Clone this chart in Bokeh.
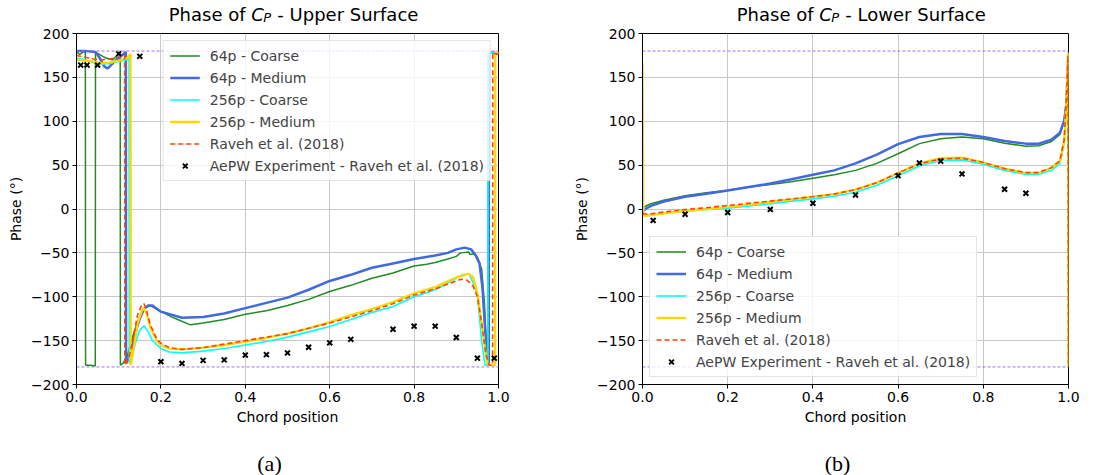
from bokeh.plotting import figure
from bokeh.models import Span, FixedTicker, PrintfTickFormatter
from bokeh.layouts import row, column
from bokeh.core.properties import value
from bokeh.embed import file_html
from bokeh.resources import INLINE

# ---------------- data : upper surface ----------------
up_64c_x = [0.0, 0.008, 0.015, 0.021, 0.0215, 0.033, 0.0445, 0.045, 0.055, 0.07, 0.085, 0.097, 0.1035, 0.104, 0.11, 0.12, 0.13, 0.145, 0.16, 0.175, 0.2, 0.23, 0.27, 0.3, 0.35, 0.4, 0.45, 0.5, 0.55, 0.6, 0.65, 0.7, 0.75, 0.78, 0.8, 0.83, 0.85, 0.88, 0.9, 0.91, 0.93, 0.932, 0.94, 0.95, 0.96, 0.967, 0.972, 0.978, 0.9785, 0.99, 1.0]
up_64c_y = [179, 176, 179, 179, -178, -178, -179, 178, 176, 172, 170, 175, 178, -178, -176, -168, -150, -128, -113, -110, -117, -124, -132, -130, -126, -120, -116, -110, -103, -94, -87, -79, -73, -68, -65, -63, -61, -57, -54, -50, -49, -52, -51, -55, -68, -110, -165, -178, 178, 177, 176]

up_64m_x = [0.0, 0.02, 0.045, 0.055, 0.065, 0.073, 0.08, 0.09, 0.1, 0.11, 0.117, 0.1175, 0.122, 0.13, 0.14, 0.15, 0.16, 0.17, 0.18, 0.2, 0.25, 0.3, 0.35, 0.4, 0.45, 0.5, 0.55, 0.6, 0.65, 0.7, 0.75, 0.8, 0.85, 0.88, 0.9, 0.92, 0.935, 0.945, 0.955, 0.962, 0.97, 0.976, 0.977, 0.99, 1.0]
up_64m_y = [180, 180, 179, 172, 163, 160, 163, 168, 172, 176, 179, -176, -172, -160, -140, -125, -114, -110, -110, -117, -124, -123, -119, -113, -107, -101, -92, -82, -75, -67, -62, -57, -53, -50, -46, -44, -46, -52, -62, -90, -150, -176, 178, 178, 177]

up_256c_x = [0.0, 0.02, 0.04, 0.06, 0.08, 0.1, 0.12, 0.1245, 0.125, 0.13, 0.14, 0.15, 0.16, 0.17, 0.18, 0.2, 0.22, 0.25, 0.3, 0.35, 0.4, 0.45, 0.5, 0.55, 0.6, 0.65, 0.7, 0.75, 0.8, 0.85, 0.9, 0.915, 0.93, 0.94, 0.95, 0.96, 0.968, 0.975, 0.9755, 0.99, 1.0]
up_256c_y = [172, 170, 167, 165, 166, 168, 170, 172, -176, -172, -152, -138, -133, -140, -150, -159, -163, -164, -162, -159, -155, -151, -146, -140, -134, -126, -118, -111, -100, -92, -79, -75, -74, -84, -98, -150, -178, -178, 178, 178, 178]

up_256m_x = [0.0, 0.02, 0.04, 0.06, 0.08, 0.1, 0.12, 0.128, 0.1285, 0.135, 0.145, 0.155, 0.16, 0.165, 0.175, 0.19, 0.2, 0.22, 0.25, 0.3, 0.35, 0.4, 0.45, 0.5, 0.55, 0.6, 0.65, 0.7, 0.75, 0.8, 0.85, 0.9, 0.92, 0.93, 0.94, 0.95, 0.96, 0.967, 0.973, 0.985, 0.992, 0.9925, 1.0]
up_256m_y = [170, 169, 168, 166, 167, 169, 172, 177, -178, -160, -130, -116, -113, -118, -135, -150, -155, -159, -160, -158, -155, -151, -147, -142, -136, -129, -121, -114, -106, -96, -89, -78, -75, -74, -78, -96, -130, -155, -176, -178, -178, 178, 178]

up_rav_x = [0.0, 0.02, 0.04, 0.06, 0.08, 0.1, 0.114, 0.1145, 0.125, 0.135, 0.145, 0.155, 0.16, 0.165, 0.175, 0.19, 0.2, 0.22, 0.25, 0.3, 0.35, 0.4, 0.45, 0.5, 0.55, 0.6, 0.65, 0.7, 0.75, 0.8, 0.85, 0.9, 0.91, 0.925, 0.94, 0.95, 0.96, 0.97, 0.978, 0.986, 0.9865, 1.0]
up_rav_y = [175, 173, 171, 170, 171, 173, 175, -178, -168, -145, -120, -109, -108, -114, -132, -148, -153, -158, -160, -158, -154, -150, -146, -142, -136, -130, -123, -116, -108, -98, -91, -82, -80, -81, -88, -100, -130, -165, -178, -178, 178, 176]

up_exp_x = [0.01, 0.025, 0.05, 0.1, 0.15, 0.2, 0.25, 0.3, 0.35, 0.4, 0.45, 0.5, 0.55, 0.6, 0.65, 0.75, 0.8, 0.85, 0.9, 0.95, 0.99]
up_exp_y = [164, 164, 164, 177, 174, -174, -176, -172.5, -172, -166.5, -166, -164, -157.5, -152.5, -148.5, -137, -133.5, -133.5, -146.5, -170, -170]

# ---------------- data : lower surface ----------------
lo_x = [0.0, 0.005, 0.01, 0.02, 0.05, 0.1, 0.15, 0.2, 0.25, 0.3, 0.35, 0.4, 0.45, 0.5, 0.55, 0.6, 0.65, 0.7, 0.75, 0.8, 0.85, 0.9, 0.93, 0.96, 0.98, 0.99, 0.995, 1.0]
lo_64c_y = [2, 2.5, 4, 6, 10, 15, 18.5, 21.5, 25, 28, 31, 35, 39, 44, 52, 63, 74.5, 80, 82, 80, 75, 71.5, 72, 77, 85, 100, 120, 178]
lo_64m_y = [-2, -1, 1, 3.5, 8.5, 14, 17.5, 21, 25, 29, 34, 39, 44, 52, 62, 74, 82, 85.5, 85.5, 82, 77.5, 74.5, 74.5, 79, 87, 101, 120, 178]
lo_256c_y = [-8, -8, -7.5, -7, -5, -2.5, -0.5, 1, 3.5, 6, 9, 11.5, 14.5, 19, 27, 38, 49, 55.5, 56, 51, 44, 39.5, 39.5, 44, 52, 75, 120, 178]

lo_256m_x = [0.0, 0.002, 0.02, 0.05, 0.1, 0.15, 0.2, 0.25, 0.3, 0.35, 0.4, 0.45, 0.5, 0.55, 0.6, 0.65, 0.7, 0.75, 0.8, 0.85, 0.9, 0.93, 0.96, 0.98, 0.99, 0.995, 0.999, 1.0]
lo_256m_y = [167, -8, -7, -5, -2, 0, 2.5, 5, 8, 11, 14, 17, 22, 30, 41, 52, 58, 58.5, 53, 46, 41, 41, 47, 55, 78, 120, 178, -180]

lo_rav_x = [0.0, 0.01, 0.02, 0.05, 0.1, 0.15, 0.2, 0.25, 0.3, 0.35, 0.4, 0.45, 0.5, 0.55, 0.6, 0.65, 0.7, 0.75, 0.8, 0.85, 0.9, 0.93, 0.96, 0.98, 0.99, 0.995, 0.999, 1.0]
lo_rav_y = [-5, -6, -5.5, -3.5, -0.5, 1.5, 4, 6.5, 9, 11.5, 14, 17, 22, 30, 41, 51.5, 57, 58, 53, 46, 41.5, 41.5, 47, 55, 80, 125, 175, -176]

lo_exp_x = [0.025, 0.1, 0.2, 0.3, 0.4, 0.5, 0.6, 0.65, 0.7, 0.75, 0.85, 0.9]
lo_exp_y = [-13, -6, -4, -0.5, 6.5, 16, 38, 52.5, 54.5, 40, 22.5, 18]

x_ticks = [0.0, 0.2, 0.4, 0.6, 0.8, 1.0]
y_ticks = [-200, -150, -100, -50, 0, 50, 100, 150, 200]
y_tick_labels = ["\u2212200", "\u2212150", "\u2212100", "\u221250", "0", "50", "100", "150", "200"]

series_names = ["64p - Coarse", "64p - Medium", "256p - Coarse", "256p - Medium",
                "Raveh et al. (2018)", "AePW Experiment - Raveh et al. (2018)"]
title_head = "Phase of"
title_sym = "C"
title_sub = "P"
titles_rest = ["- Upper Surface", "- Lower Surface"]
captions = ["(a)", "(b)"]

FONT = "DejaVu Sans"
STYLES = [
    dict(color="#228B22", line_width=1.5),
    dict(color="#4169E1", line_width=2.5),
    dict(color="#00FFFF", line_width=1.6),
    dict(color="#FFD700", line_width=2.3),
    dict(color="#FF4500", line_width=1.6, line_dash="5 3"),
]

TITLE_H = 25
TOP_PAD = 8
FRAME_H = 351
BOTTOM_B = 58
CAP_H = 475 - TITLE_H - TOP_PAD - FRAME_H - BOTTOM_B


def strip(width, left, right, height):
    s = figure(width=width, height=height, x_range=(0, 1), y_range=(0, height),
               output_backend="svg", toolbar_location=None,
               x_axis_type=None, y_axis_type=None,
               min_border_left=left, min_border_right=right,
               min_border_top=0, min_border_bottom=0)
    s.title = None
    s.outline_line_color = None
    s.grid.visible = False
    return s


def title_strip(width, left, right, rest):
    s = strip(width, left, right, TITLE_H)
    sp = 5.7                      # width of a space at 18px
    w1, wc, wp, w2 = 82.5, 12.6, 7.8, 146.6
    start = -(w1 + wc + wp + w2) / 2 + 6
    a = start + w1
    ym = TITLE_H - 14.0           # vertical middle of the 18px title text
    ys = TITLE_H - 17.0           # vertical middle of the 13px subscript
    common = dict(text_baseline="middle", text_font=value(FONT), text_color="black")
    s.text(x=[0.5], y=[ym], text=[title_head], x_offset=a - sp, text_align="right",
           text_font_size="18px", **common)
    s.text(x=[0.5], y=[ym], text=[title_sym], x_offset=a, text_align="left",
           text_font_style="italic", text_font_size="18px", **common)
    s.text(x=[0.5], y=[ys], text=[title_sub], x_offset=a + wc - 0.5, text_align="left",
           text_font_style="italic", text_font_size="13px", **common)
    s.text(x=[0.5], y=[ym], text=[rest], x_offset=a + wc + wp + sp, text_align="left",
           text_font_size="18px", **common)
    return s


def caption_strip(width, left, right, cap):
    s = strip(width, left, right, CAP_H)
    s.text(x=[0.5], y=[CAP_H - 21], text=[cap], x_offset=-18, text_align="center",
           text_baseline="middle",
           text_font=value("Liberation Serif"), text_font_size="22px", text_color="black")
    return s


def make_panel(width, left, right, lines, exp_x, exp_y, legend_loc):
    p = figure(width=width, height=TOP_PAD + FRAME_H + BOTTOM_B, x_range=(0, 1), y_range=(-200, 200),
               output_backend="svg", toolbar_location=None,
               min_border_left=left, min_border_right=right,
               min_border_top=TOP_PAD, min_border_bottom=BOTTOM_B)
    p.title = None
    p.outline_line_color = "black"
    p.outline_line_width = 1

    for s in (180, -180):
        p.add_layout(Span(location=s, dimension="width", line_color="#a070e8",
                          line_width=1, line_dash="3 2"))

    for (xs, ys), name, st in zip(lines, series_names, STYLES):
        p.line(xs, ys, legend_label=name, **st)
    p.scatter(exp_x, exp_y, marker="x", size=7, line_width=2, color="black",
              legend_label=series_names[5])

    p.xaxis.ticker = FixedTicker(ticks=x_ticks)
    p.xaxis.formatter = PrintfTickFormatter(format="%.1f")
    p.yaxis.ticker = FixedTicker(ticks=y_ticks)
    p.yaxis.major_label_overrides = {t: l for t, l in zip(y_ticks, y_tick_labels)}
    p.xaxis.axis_label = "Chord position"
    p.yaxis.axis_label = "Phase (\u00b0)"
    for ax in (p.xaxis[0], p.yaxis[0]):
        ax.axis_label_text_font = FONT
        ax.axis_label_text_font_size = "14px"
        ax.axis_label_text_font_style = "normal"
        ax.axis_label_text_color = "black"
        ax.axis_label_standoff = 4
        ax.major_label_text_font = FONT
        ax.major_label_text_font_size = "14px"
        ax.major_label_text_color = "black"
        ax.major_label_standoff = 3
        ax.major_tick_out = 4
        ax.major_tick_in = 0
        ax.minor_tick_out = 0
        ax.minor_tick_in = 0
        ax.axis_line_color = "black"
        ax.major_tick_line_color = "black"
    p.grid.grid_line_color = "#c8c8c8"
    p.grid.grid_line_width = 1

    lg = p.legend[0]
    lg.location = legend_loc
    lg.margin = 7
    lg.padding = 6
    lg.spacing = 5
    lg.label_height = 17
    lg.glyph_height = 17
    lg.glyph_width = 30
    lg.label_standoff = 10
    lg.label_text_font = FONT
    lg.label_text_font_size = "14px"
    lg.border_line_color = "#cccccc"
    lg.background_fill_alpha = 0.8
    return p


p1 = make_panel(530, 76, 32,
                [(up_64c_x, up_64c_y), (up_64m_x, up_64m_y), (up_256c_x, up_256c_y),
                 (up_256m_x, up_256m_y), (up_rav_x, up_rav_y)],
                up_exp_x, up_exp_y, "top_right")
p2 = make_panel(565, 112, 27,
                [(lo_x, lo_64c_y), (lo_x, lo_64m_y), (lo_x, lo_256c_y),
                 (lo_256m_x, lo_256m_y), (lo_rav_x, lo_rav_y)],
                lo_exp_x, lo_exp_y, "bottom_left")

left = column(title_strip(530, 76, 32, titles_rest[0]), p1, caption_strip(530, 76, 32, captions[0]))
right = column(title_strip(565, 112, 27, titles_rest[1]), p2, caption_strip(565, 112, 27, captions[1]))
layout = row(left, right)
open("out.html", "w").write(file_html(layout, INLINE))
